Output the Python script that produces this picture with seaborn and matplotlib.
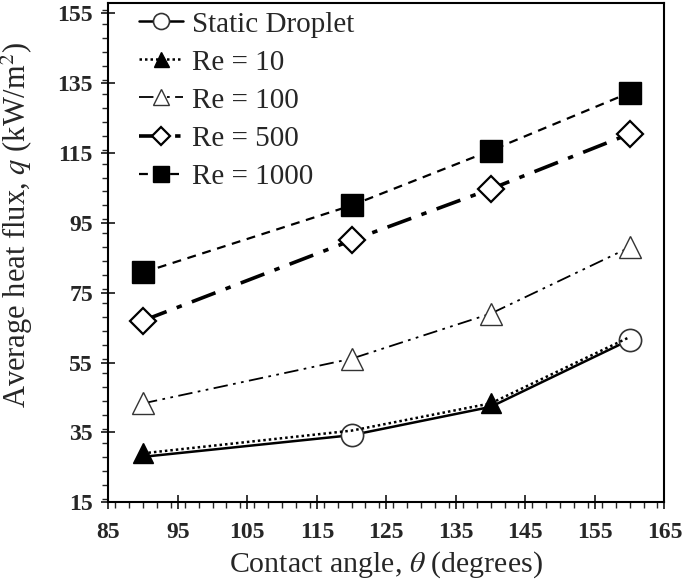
import numpy as np
import pandas as pd
import matplotlib
matplotlib.use("Agg")
import matplotlib.pyplot as plt
import seaborn as sns
from matplotlib.ticker import MultipleLocator

# data
angles = [90, 120, 140, 160]
static_droplet = [28.0, 34.2, 42.3, 61.5]
re_10 = [29.0, 35.5, 43.3, 62.3]
re_100 = [43.3, 56.1, 69.0, 88.0]
re_500 = [67.0, 90.0, 104.7, 120.5]
re_1000 = [80.8, 100.0, 115.7, 132.3]
labels = ["Static Droplet", "Re = 10", "Re = 100", "Re = 500", "Re = 1000"]
x_ticks = [85, 95, 105, 115, 125, 135, 145, 155, 165]
y_ticks = [15, 35, 55, 75, 95, 115, 135, 155]

sns.set_style("ticks")
plt.rcParams['font.family'] = ['Liberation Serif', 'DejaVu Serif']
plt.rcParams['mathtext.fontset'] = 'stix'

fig = plt.figure(figsize=(6.85, 5.86), dpi=100)
ax = fig.add_axes([0.158, 0.143, 0.812, 0.852])

series = [static_droplet, re_10, re_100, re_500, re_1000]
# the static and Re = 10 markers overlap; the reference shows one of each pair
styles = [
    dict(linestyle='-', lw=1.8, marker='o', ms=16, mfc='white', mec='#333333', mew=1.2, markevery=[1, 3]),
    dict(linestyle=(0, (1, 1.2)), lw=1.8, marker='^', ms=15, mfc='black', mec='black', mew=1.0, markevery=[0, 2]),
    dict(linestyle=(0, (8, 3, 1.5, 3, 1.5, 3)), lw=1.3, marker='^', ms=16, mfc='white', mec='#333333', mew=1.0),
    dict(linestyle=(0, (7, 3, 1.5, 3)), lw=2.6, marker='D', ms=13, mfc='white', mec='black', mew=1.6),
    dict(linestyle=(0, (4, 3)), lw=1.6, marker='s', ms=16, mfc='black', mec='black', mew=1.0),
]

for vals, lab, st in zip(series, labels, styles):
    df = pd.DataFrame({"angle": angles, "q": vals})
    sns.lineplot(data=df, x="angle", y="q", ax=ax, color='black', label=lab, **st)

ax.set_xlim(85, 165)
ax.set_ylim(15, 158)
ax.set_xticks(x_ticks)
ax.xaxis.set_minor_locator(MultipleLocator(2))
ax.set_yticks(y_ticks)
ax.yaxis.set_minor_locator(MultipleLocator(4))
ax.tick_params(which='major', direction='inout', length=10, width=1.3, labelsize=17, pad=6)
ax.tick_params(axis='x', which='major', pad=9)
ax.tick_params(which='minor', direction='out', length=4, width=1.0)
for t in ax.get_xticklabels() + ax.get_yticklabels():
    t.set_fontweight('bold')
for s in ax.spines.values():
    s.set_linewidth(1.5)
    s.set_color('black')

ax.set_xlabel(r"Contact angle, $\theta$ (degrees)", fontsize=21.5, labelpad=5)
ax.set_ylabel(r"Average heat flux, $q$ (kW/m$^2$)", fontsize=22)
ax.yaxis.set_label_coords(-0.132, 0.555)

leg = ax.legend(loc='upper left', bbox_to_anchor=(0.035, 1.007), frameon=False, fontsize=21,
                handlelength=1.5, handletextpad=0.3, labelspacing=0.4, borderaxespad=0.0,
                markerscale=0.72)

fig.savefig("out.png", dpi=100)
